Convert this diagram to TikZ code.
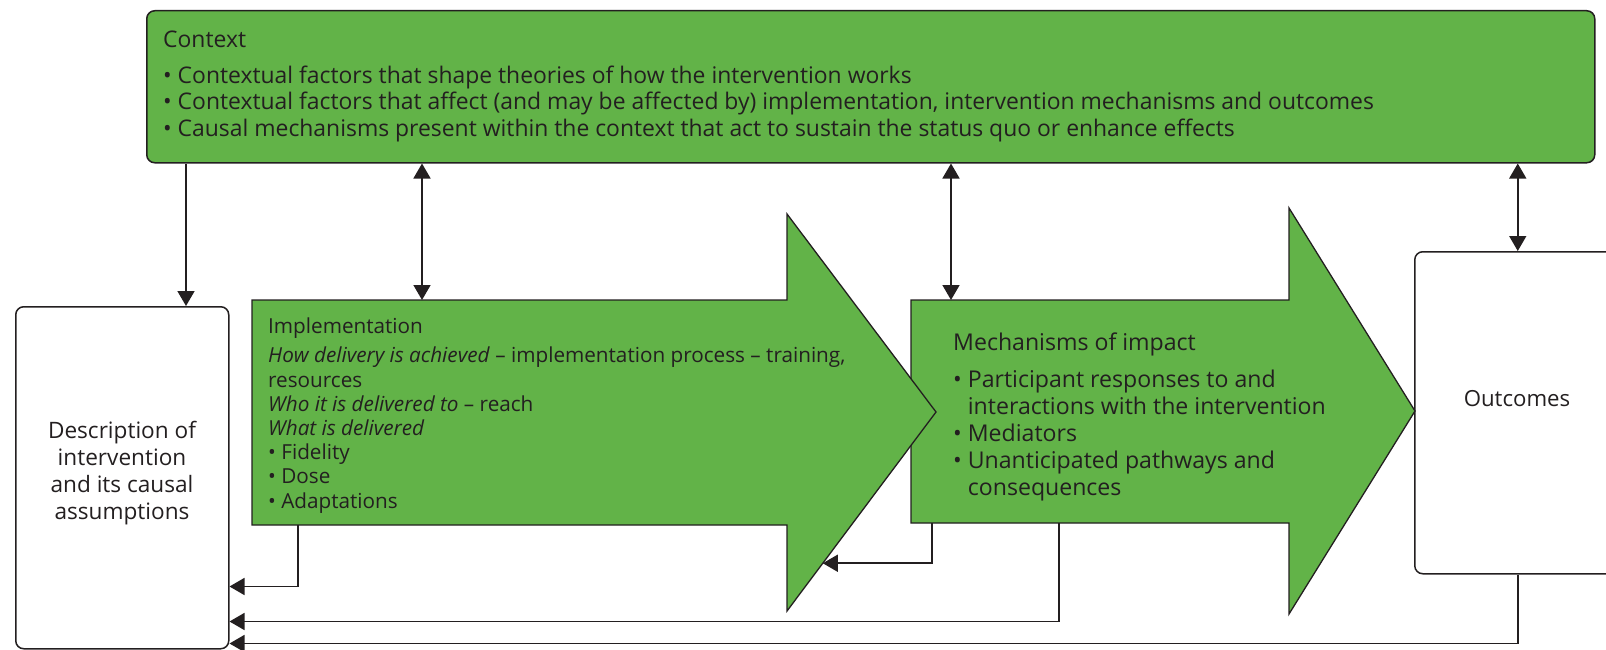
\documentclass[tikz,border=0pt]{standalone}
\usepackage{fontspec}
\setmainfont{Open Sans}
\usetikzlibrary{arrows.meta,calc}
\definecolor{boxgreen}{RGB}{98,179,72}
\definecolor{inkgray}{RGB}{35,31,32}
\begin{document}
\begin{tikzpicture}[x=1pt,y=-1pt,
    box/.style={draw=inkgray, line width=1.5pt, rounded corners=8pt, inner sep=0pt, anchor=north west},
    bigarrow/.style={draw=inkgray, fill=boxgreen, line width=1.3pt},
    txt/.style={inner sep=0pt, text=inkgray, align=left, font=\fontsize{22.9}{27}\selectfont},
    arr/.style={draw=inkgray, line width=1.6pt, -{Triangle[length=15pt,width=17pt]}},
    dblarr/.style={arr, {Triangle[length=15pt,width=17pt]}-{Triangle[length=15pt,width=17pt]}}]

    \useasboundingbox (0,0) rectangle (1606,650);
    \clip (0,0) rectangle (1606,650);

	  % Define boxes
	  \node[box, fill=boxgreen, minimum width=1448, minimum height=152] (context) at (146,10) {};
	  \node[box, fill=white, minimum width=213, minimum height=342]     (desc) at (15,306) {};
	  \node[box, fill=white, minimum width=206, minimum height=322]     (outcomes) at (1414,251) {};

	  % Big arrows (mechanisms first, implementation tip lies over it)
	  \coordinate (mech-nw) at (911,300);
	  \coordinate (mech-sw) at (911,523);
	  \draw[bigarrow] (mech-nw) -- (1289,300) -- (1289,208) -- (1415,411) -- (1289,614) -- (1289,523) -- (mech-sw) -- cycle;
	  \coordinate (impl-nw) at (252,300);
	  \coordinate (impl-sw) at (252,525);
	  \coordinate (impl-tip) at (936,412);
	  \coordinate (impl-hs) at (787,611);
	  \draw[bigarrow] (impl-nw) -- (787,300) -- (787,214) -- (impl-tip) -- (impl-hs) -- (787,525) -- (impl-sw) -- cycle;

	  % Texts (anchored on the baseline of their last line)
	  \node[txt, anchor=base west] (context-text) at (163,137)
	    {Context\\[8pt]
	     • Contextual factors that shape theories of how the intervention works\\
	     • Contextual factors that affect (and may be affected by) implementation, intervention mechanisms and outcomes\\
	     • Causal mechanisms present within the context that act to sustain the status quo or enhance effects};
	  \node[txt, anchor=base, align=center, font=\fontsize{22.6}{27}\selectfont] (desc-text) at (122,519)
	    {Description of\\intervention\\and its causal\\assumptions};
	  \node[txt, anchor=base west, font=\fontsize{20.7}{24.2}\selectfont] (impl-text) at (268,508)
	    {Implementation\\[4.8pt]
	     \textit{How delivery is achieved} – implementation process – training,\\
	     resources\\
	     \textit{Who it is delivered to} – reach\\
	     \textit{What is delivered}\\
	     • Fidelity\\
	     • Dose\\
	     • Adaptations};
	  \node[txt, anchor=base west, font=\fontsize{23.1}{27}\selectfont] (mech-text) at (953,495)
	    {Mechanisms of impact\\[10pt]
	     • Participant responses to and\\
	     \phantom{• }interactions with the intervention\\
	     • Mediators\\
	     • Unanticipated pathways and\\
	     \phantom{• }consequences};
	  \node[txt, anchor=base, font=\fontsize{22.2}{27}\selectfont] (outcomes-text) at (1517,406) {Outcomes};

	  % Ports
	  \coordinate (desc-top) at ($(desc.north west)+(171,0)$);
	  \coordinate (impl-top) at ($(impl-nw)+(170,0)$);
	  \coordinate (mech-top) at ($(mech-nw)+(40,0)$);
	  \coordinate (impl-out) at ($(impl-sw)+(46,0)$);
	  \coordinate (mech-out1) at ($(mech-sw)+(21,0)$);
	  \coordinate (mech-out2) at ($(mech-sw)+(148,0)$);
	  \coordinate (impl-back) at ($(impl-tip)!0.76!(impl-hs)$);
	  \coordinate (desc-in1) at ($(desc.south east)+(0,-63)$);
	  \coordinate (desc-in2) at ($(desc.south east)+(0,-28)$);
	  \coordinate (desc-in3) at ($(desc.south east)+(0,-6)$);

	  % Connect the nodes
	  \draw[arr] (context.south -| desc-top) -- (desc-top);
	  \draw[dblarr] (context.south -| impl-top) -- (impl-top);
	  \draw[dblarr] (context.south -| mech-top) -- (mech-top);
	  \draw[dblarr] (context.south -| outcomes.north) -- (outcomes.north);
	  \draw[arr] (impl-out) |- (desc-in1);
	  \draw[arr] (mech-out1) |- (impl-back);
	  \draw[arr] (mech-out2) |- (desc-in2);
	  \draw[arr] (outcomes.south) |- (desc-in3);

\end{tikzpicture}
\end{document}
